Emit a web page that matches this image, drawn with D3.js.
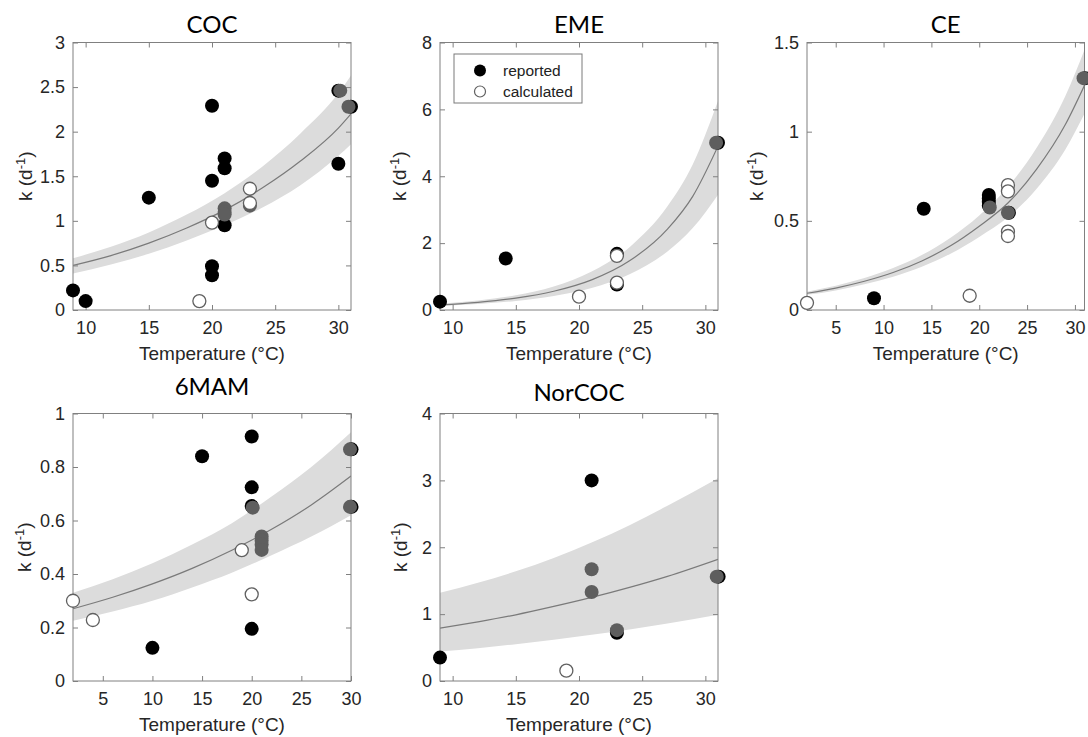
<!DOCTYPE html>
<html><head><meta charset="utf-8">
<script src="https://cdn.jsdelivr.net/npm/d3@7"></script>
<style>body{margin:0;background:#fff;} svg{display:block}</style>
</head><body>
<svg id="chart" width="1088" height="737"></svg>
<script>
// ---------- DATA ----------
// COC
const cocReported = [[9,0.22],[10,0.10],[15,1.26],[20,2.29],[20,1.45],[20,0.49],[20,0.39],[21,1.70],[21,1.59],[21,0.95],[30,2.46],[31,2.28],[30,1.64]];
const cocOther = [[21,1.14],[21,1.10],[21,1.07],[23,1.17],[30.15,2.46],[30.8,2.28]];
const cocCalculated = [[19,0.10],[20,0.98],[23,1.36],[23,1.20]];
const cocFitT = [9,12,15,18,21,24,27,30,31];
const cocFit = [0.50,0.61,0.75,0.92,1.12,1.37,1.67,2.04,2.20];
const cocFitLow = [0.41,0.51,0.63,0.78,0.95,1.15,1.40,1.73,1.86];
const cocFitHigh = [0.58,0.71,0.87,1.07,1.31,1.61,1.98,2.43,2.63];
const cocXTicks = [10,15,20,25,30];
const cocYTicks = [0,0.5,1,1.5,2,2.5,3];

// EME
const emeReported = [[9,0.25],[14.2,1.54],[23,1.68],[23,0.76],[31,5.0]];
const emeOther = [[30.85,5.0]];
const emeCalculated = [[20,0.40],[23,1.62],[23,0.82]];
const emeFitT = [9,12,15,18,21,24,27,29,31];
const emeFit = [0.15,0.23,0.355,0.56,0.90,1.47,2.42,3.40,4.90];
const emeFitLow = [0.12,0.18,0.27,0.42,0.66,1.07,1.75,2.45,3.45];
const emeFitHigh = [0.19,0.285,0.44,0.70,1.15,1.88,3.10,4.35,6.25];
const emeXTicks = [10,15,20,25,30];
const emeYTicks = [0,2,4,6,8];

// CE
const ceReported = [[9,0.066],[14.2,0.568],[21,0.645],[21,0.625],[21,0.605],[21,0.585],[23.1,0.545],[31.05,1.30]];
const ceOther = [[21.1,0.575],[23,0.545],[30.9,1.30]];
const ceCalculated = [[2,0.04],[19,0.08],[23,0.70],[23,0.665],[23,0.44],[23,0.415]];
const ceFitT = [2,5,8,11,14,17,20,23,26,29,31];
const ceFit = [0.094,0.123,0.161,0.21,0.275,0.36,0.47,0.60,0.79,1.04,1.26];
const ceFitLow = [0.085,0.110,0.144,0.187,0.243,0.316,0.41,0.52,0.68,0.90,1.10];
const ceFitHigh = [0.103,0.136,0.179,0.235,0.308,0.405,0.53,0.69,0.91,1.20,1.46];
const ceXTicks = [5,10,15,20,25,30];
const ceYTicks = [0,0.5,1,1.5];

// 6MAM
const mamReported = [[10,0.124],[15,0.84],[20,0.914],[20,0.724],[20,0.654],[20,0.195],[30.05,0.866],[30.05,0.651]];
const mamOther = [[20.1,0.648],[21,0.54],[21,0.525],[21,0.51],[21,0.49],[29.9,0.866],[29.9,0.651]];
const mamCalculated = [[2,0.30],[4,0.228],[19,0.489],[20,0.324]];
const mamFitT = [2,6,10,14,18,22,26,30];
const mamFit = [0.27,0.313,0.363,0.421,0.489,0.567,0.658,0.766];
const mamFitLow = [0.225,0.26,0.30,0.35,0.405,0.47,0.54,0.62];
const mamFitHigh = [0.33,0.38,0.44,0.51,0.59,0.69,0.80,0.93];
const mamXTicks = [5,10,15,20,25,30];
const mamYTicks = [0,0.2,0.4,0.6,0.8,1];

// NorCOC
const norReported = [[9,0.35],[21,3.0],[23,0.72],[31.05,1.56]];
const norOther = [[21,1.67],[21,1.33],[23,0.76],[30.9,1.56]];
const norCalculated = [[19,0.155]];
const norFitT = [9,12,15,18,21,24,27,31];
const norFit = [0.79,0.885,0.99,1.115,1.25,1.40,1.565,1.82];
const norFitLow = [0.44,0.49,0.55,0.615,0.69,0.77,0.86,0.99];
const norFitHigh = [1.32,1.47,1.64,1.84,2.07,2.33,2.62,3.03];
const norXTicks = [10,15,20,25,30];
const norYTicks = [0,1,2,3,4];

const legendLabels = ["reported","calculated"];

// ---------- LAYOUT ----------
const panels = [
  {title:"COC", rep:cocReported, oth:cocOther, calc:cocCalculated, t:cocFitT, mid:cocFit, lo:cocFitLow, hi:cocFitHigh,
   xd:[9,31], yd:[0,3], xt:cocXTicks, yt:cocYTicks, box:[73,42.5,278,267.5], ylo:41.5, ty:32.5},
  {title:"EME", rep:emeReported, oth:emeOther, calc:emeCalculated, t:emeFitT, mid:emeFit, lo:emeFitLow, hi:emeFitHigh,
   xd:[9,31], yd:[0,8], xt:emeXTicks, yt:emeYTicks, box:[440,42.5,278,267.5], ylo:34, ty:32.5, legend:true},
  {title:"CE", rep:ceReported, oth:ceOther, calc:ceCalculated, t:ceFitT, mid:ceFit, lo:ceFitLow, hi:ceFitHigh,
   xd:[2,31], yd:[0,1.5], xt:ceXTicks, yt:ceYTicks, box:[807,42.5,277.5,267.5], ylo:44, ty:32.5},
  {title:"6MAM", rep:mamReported, oth:mamOther, calc:mamCalculated, t:mamFitT, mid:mamFit, lo:mamFitLow, hi:mamFitHigh,
   xd:[2,30], yd:[0,1], xt:mamXTicks, yt:mamYTicks, box:[73,413.5,278,267.5], ylo:42, ty:395},
  {title:"NorCOC", rep:norReported, oth:norOther, calc:norCalculated, t:norFitT, mid:norFit, lo:norFitLow, hi:norFitHigh,
   xd:[9,31], yd:[0,4], xt:norXTicks, yt:norYTicks, box:[440,413.5,278,267.5], ylo:33.5, ty:401}
];

const FONT = "'Liberation Sans', Arial, sans-serif";
const TITLEFONT = "Lato, 'Open Sans', sans-serif";
const AXIS_COL = "#808080", TEXT_COL = "#262626";
const R = 7;

const svg = d3.select("#chart");

panels.forEach((p, i) => {
  const [bx, by, w, h] = p.box;
  const g = svg.append("g").attr("transform", `translate(${bx},${by})`);
  const x = d3.scaleLinear().domain(p.xd).range([0, w]);
  const y = d3.scaleLinear().domain(p.yd).range([h, 0]);

  const clipId = "clip" + i;
  g.append("clipPath").attr("id", clipId).append("rect").attr("width", w).attr("height", h);

  const fit = p.t.map((t, j) => ({t, mid: p.mid[j], lo: p.lo[j], hi: p.hi[j]}));
  g.append("path").datum(fit).attr("clip-path", `url(#${clipId})`)
    .attr("fill", "#dcdcdc")
    .attr("d", d3.area().x(d => x(d.t)).y0(d => y(d.lo)).y1(d => y(d.hi)).curve(d3.curveMonotoneX));
  g.append("path").datum(fit).attr("clip-path", `url(#${clipId})`)
    .attr("fill", "none").attr("stroke", "#7a7a7a").attr("stroke-width", 1.2)
    .attr("d", d3.line().x(d => x(d.t)).y(d => y(d.mid)).curve(d3.curveMonotoneX));

  // axes
  const fmt = d => String(d);
  const gx = g.append("g").attr("transform", `translate(0,${h})`)
    .call(d3.axisBottom(x).tickValues(p.xt).tickSizeInner(-5).tickSizeOuter(0).tickPadding(11).tickFormat(fmt));
  const gy = g.append("g")
    .call(d3.axisLeft(y).tickValues(p.yt).tickSizeInner(-5).tickSizeOuter(0).tickPadding(8).tickFormat(fmt));
  const gt = g.append("g")
    .call(d3.axisTop(x).tickValues(p.xt).tickSizeInner(-5).tickSizeOuter(0).tickFormat(""));
  const gr = g.append("g").attr("transform", `translate(${w},0)`)
    .call(d3.axisRight(y).tickValues(p.yt).tickSizeInner(-5).tickSizeOuter(0).tickFormat(""));
  [gx, gy, gt, gr].forEach(a => {
    a.attr("color", AXIS_COL).attr("font-family", FONT).attr("font-size", 18);
    a.select(".domain").remove();
    a.selectAll("text").attr("fill", TEXT_COL);
  });
  g.append("rect").attr("width", w).attr("height", h)
    .attr("fill", "none").attr("stroke", AXIS_COL).attr("stroke-width", 1);

  // markers
  g.append("g").selectAll("circle").data(p.rep).join("circle")
    .attr("cx", d => x(d[0])).attr("cy", d => y(d[1])).attr("r", R).attr("fill", "#000");
  g.append("g").selectAll("circle").data(p.oth).join("circle")
    .attr("cx", d => x(d[0])).attr("cy", d => y(d[1])).attr("r", R).attr("fill", "#5e5e5e");
  g.append("g").selectAll("circle").data(p.calc).join("circle")
    .attr("cx", d => x(d[0])).attr("cy", d => y(d[1])).attr("r", R - 0.5)
    .attr("fill", "#fff").attr("stroke", "#606060").attr("stroke-width", 1.3);

  // labels
  g.append("text").attr("x", w / 2).attr("y", h + 50).attr("text-anchor", "middle")
    .attr("font-family", FONT).attr("font-size", 19).attr("fill", TEXT_COL)
    .text("Temperature (°C)");
  const yl = g.append("text").attr("transform", `translate(${-p.ylo},${h / 2}) rotate(-90)`)
    .attr("text-anchor", "middle").attr("font-family", FONT).attr("font-size", 19).attr("fill", TEXT_COL);
  yl.append("tspan").text("k (d");
  yl.append("tspan").attr("font-size", 13).attr("dy", -7).text("-1");
  yl.append("tspan").attr("dy", 7).text(")");

  svg.append("text").attr("x", bx + w / 2).attr("y", p.ty).attr("text-anchor", "middle")
    .attr("font-family", TITLEFONT).attr("font-size", 24).attr("fill", "#000")
    .text(p.title);

  if (p.legend) {
    const lg = g.append("g").attr("transform", "translate(14,11.5)");
    lg.append("rect").attr("width", 128).attr("height", 49)
      .attr("fill", "#fff").attr("stroke", "#7a7a7a").attr("stroke-width", 1);
    const rows = [16.5, 37.5];
    lg.append("circle").attr("cx", 26).attr("cy", rows[0]).attr("r", 6).attr("fill", "#000");
    lg.append("circle").attr("cx", 26).attr("cy", rows[1]).attr("r", 5.5)
      .attr("fill", "#fff").attr("stroke", "#606060").attr("stroke-width", 1.2);
    legendLabels.forEach((lab, k) => {
      lg.append("text").attr("x", 49).attr("y", rows[k]).attr("dy", "0.35em")
        .attr("font-family", FONT).attr("font-size", 15.5).attr("fill", "#222").text(lab);
    });
  }
});
</script>
</body></html>
